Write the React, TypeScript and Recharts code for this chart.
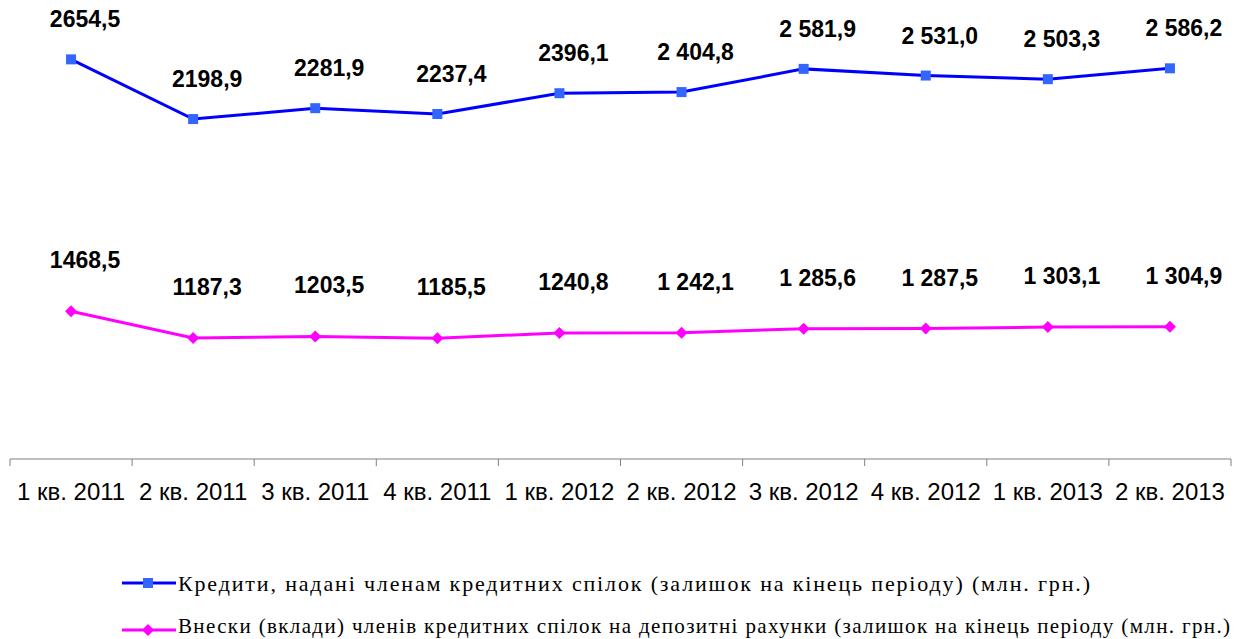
import { LineChart, Line, XAxis, YAxis, LabelList } from 'recharts';

const quarters = ['1 кв. 2011', '2 кв. 2011', '3 кв. 2011', '4 кв. 2011', '1 кв. 2012', '2 кв. 2012', '3 кв. 2012', '4 кв. 2012', '1 кв. 2013', '2 кв. 2013'];
const credits = [2654.5, 2198.9, 2281.9, 2237.4, 2396.1, 2404.8, 2581.9, 2531.0, 2503.3, 2586.2];
const creditLabels = ['2654,5', '2198,9', '2281,9', '2237,4', '2396,1', '2 404,8', '2 581,9', '2 531,0', '2 503,3', '2 586,2'];
const deposits = [1468.5, 1187.3, 1203.5, 1185.5, 1240.8, 1242.1, 1285.6, 1287.5, 1303.1, 1304.9];
const depositLabels = ['1468,5', '1187,3', '1203,5', '1185,5', '1240,8', '1 242,1', '1 285,6', '1 287,5', '1 303,1', '1 304,9'];

const creditName = 'Кредити, надані членам кредитних спілок (залишок на кінець періоду) (млн. грн.)';
const depositName = 'Внески (вклади) членів кредитних спілок на депозитні рахунки (залишок на кінець періоду (млн. грн.)';

const data = quarters.map((q, i) => ({
  q,
  credits: credits[i],
  deposits: deposits[i],
  creditLabel: creditLabels[i],
  depositLabel: depositLabels[i],
}));

const BAND = 1221 / quarters.length;

function QuarterTick(props: any) {
  const { x, y, payload, index } = props;
  const left = x - BAND / 2;
  return (
    <g>
      <line x1={left} y1={y - 8} x2={left} y2={y - 1} stroke="#808080" />
      {index === quarters.length - 1 && (
        <line x1={x + BAND / 2} y1={y - 8} x2={x + BAND / 2} y2={y - 1} stroke="#808080" />
      )}
      <text x={x} y={y + 33} textAnchor="middle" fontSize={24} fill="#000" fontFamily="Arial, 'Liberation Sans', sans-serif">
        {payload.value}
      </text>
    </g>
  );
}

const makeLabel = (dy: number) => (props: any) => {
  const { x, y, value } = props;
  return (
    <text x={x + 14} y={y + dy} textAnchor="middle" dominantBaseline="central" fontSize={23} fontWeight="bold" fill="#000" fontFamily="Arial, 'Liberation Sans', sans-serif">
      {value}
    </text>
  );
};

const Square = (props: any) => {
  const { cx, cy } = props;
  return <rect x={cx - 5} y={cy - 5} width={10} height={10} fill="#3366FF" />;
};

const Diamond = (props: any) => {
  const { cx, cy } = props;
  return <path d={`M${cx},${cy - 6} L${cx + 6},${cy} L${cx},${cy + 6} L${cx - 6},${cy} Z`} fill="#FF00FF" />;
};

// legend drawn below the plot, text stretched to the original's width
function Legend2() {
  const font = "'Liberation Serif', 'Times New Roman', serif";
  return (
    <svg width={1234} height={119} style={{ position: 'absolute', left: 0, top: 520 }}>
      <line x1={122} y1={63} x2={176} y2={63} stroke="#0000FF" strokeWidth={3} />
      <rect x={143} y={58} width={10} height={10} fill="#3366FF" />
      <text x={178} y={71} fontSize={22} fontFamily={font} textLength={912} lengthAdjust="spacing">{creditName}</text>
      <line x1={122} y1={110} x2={176} y2={110} stroke="#FF00FF" strokeWidth={3} />
      <path d="M148,104 L154,110 L148,116 L142,110 Z" fill="#FF00FF" />
      <text x={178} y={113} fontSize={21} fontFamily={font} textLength={1052} lengthAdjust="spacing">{depositName}</text>
    </svg>
  );
}

export default function App() {
  return (
    <div style={{ position: 'absolute', left: 0, top: 0, width: 1234, height: 639, background: '#fff', overflow: 'hidden' }}>
      <LineChart width={1234} height={520} data={data} margin={{ top: 20, right: 3, left: 10, bottom: 31 }}>
        <XAxis
          dataKey="q"
          scale="band"
          height={30}
          axisLine={{ stroke: '#808080' }}
          tickLine={false}
          interval={0}
          tick={<QuarterTick />}
        />
        <YAxis yAxisId="c" hide domain={[-396, 2955]} />
        <YAxis yAxisId="d" hide domain={[-86, 4535]} />
        <Line
          yAxisId="c"
          dataKey="credits"
          stroke="#0000FF"
          strokeWidth={3}
          dot={<Square />}
          isAnimationActive={false}
        >
          <LabelList dataKey="creditLabel" content={makeLabel(-40)} />
        </Line>
        <Line
          yAxisId="d"
          dataKey="deposits"
          stroke="#FF00FF"
          strokeWidth={3}
          dot={<Diamond />}
          isAnimationActive={false}
        >
          <LabelList dataKey="depositLabel" content={makeLabel(-51)} />
        </Line>
      </LineChart>
      <Legend2 />
    </div>
  );
}
